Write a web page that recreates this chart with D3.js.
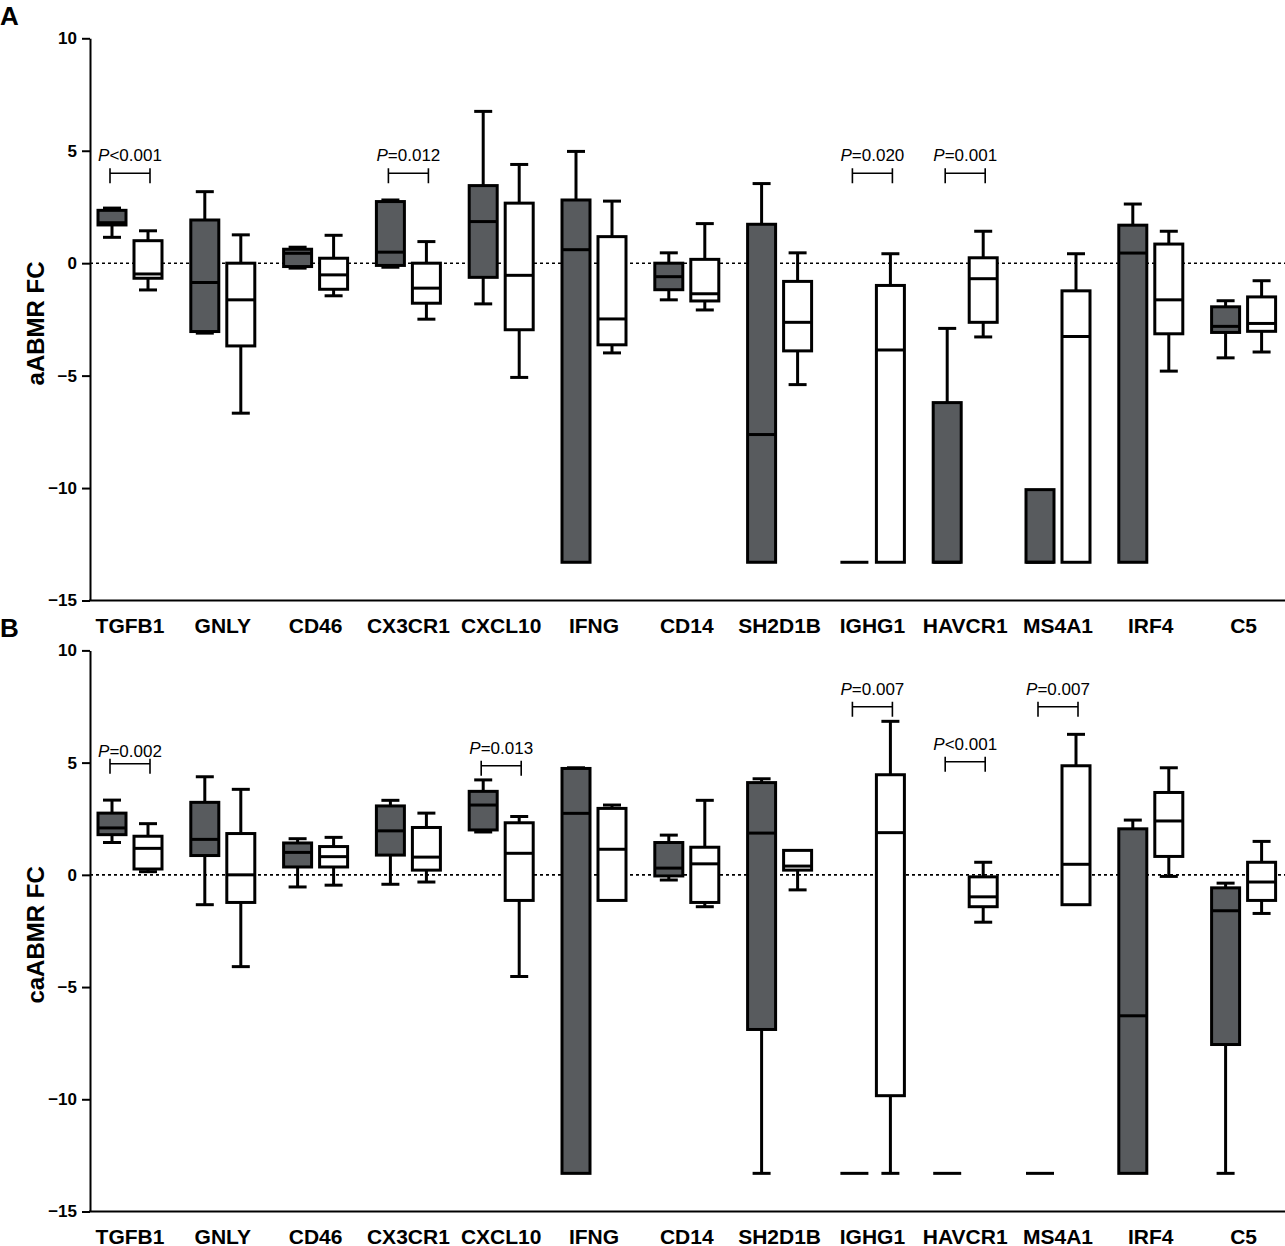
<!DOCTYPE html>
<html>
<head>
<meta charset="utf-8">
<script src="https://cdn.jsdelivr.net/npm/d3@7"></script>
<style>
  body { margin: 0; background: #fff; }
  svg { display: block; font-family: Arial, "Liberation Sans", sans-serif; }
</style>
</head>
<body>
<svg id="chart" width="1285" height="1246"></svg>
<script>
// genes on the x axis
var genes = ["TGFB1", "GNLY", "CD46", "CX3CR1", "CXCL10", "IFNG", "CD14",
             "SH2D1B", "IGHG1", "HAVCR1", "MS4A1", "IRF4", "C5"];
var yTicks = [10, 5, 0, -5, -10, -15];

// box values: [min, q1, median, q3, max]
var aDark = [
  [1.15, 1.7, 1.8, 2.35, 2.45],
  [-3.11, -3.04, -0.86, 1.92, 3.18],
  [-0.22, -0.15, 0.44, 0.62, 0.71],
  [-0.18, -0.1, 0.49, 2.74, 2.81],
  [-1.81, -0.63, 1.85, 3.45, 6.75],
  [-13.3, -13.3, 0.6, 2.81, 4.97],
  [-1.63, -1.18, -0.6, 0.0, 0.46],
  [-13.3, -13.3, -7.62, 1.73, 3.54],
  [-13.3, -13.3, -13.3, -13.3, -13.3],
  [-13.3, -13.3, -13.3, -6.2, -2.9],
  [-13.3, -13.3, -13.3, -10.07, -10.07],
  [-13.3, -13.3, 0.45, 1.69, 2.63],
  [-4.21, -3.08, -2.81, -1.94, -1.67]
];
var aLight = [
  [-1.19, -0.67, -0.48, 1.0, 1.44],
  [-6.67, -3.68, -1.63, 0.0, 1.26],
  [-1.45, -1.16, -0.52, 0.22, 1.24],
  [-2.49, -1.78, -1.11, 0.0, 0.96],
  [-5.08, -2.96, -0.54, 2.67, 4.39],
  [-3.99, -3.63, -2.48, 1.18, 2.76],
  [-2.08, -1.68, -1.36, 0.17, 1.76],
  [-5.4, -3.9, -2.63, -0.81, 0.46],
  [-13.3, -13.3, -3.86, -0.99, 0.42],
  [-3.28, -2.63, -0.69, 0.24, 1.42],
  [-13.3, -13.3, -3.26, -1.23, 0.42],
  [-4.8, -3.14, -1.63, 0.85, 1.42],
  [-3.95, -3.03, -2.68, -1.5, -0.78]
];
var bDark = [
  [1.44, 1.79, 2.09, 2.75, 3.33],
  [-1.33, 0.86, 1.58, 3.23, 4.37],
  [-0.54, 0.35, 1.0, 1.42, 1.61],
  [-0.42, 0.88, 1.96, 3.07, 3.32],
  [1.91, 2.0, 3.11, 3.72, 4.23],
  [-13.3, -13.3, 2.74, 4.74, 4.77],
  [-0.23, -0.05, 0.3, 1.44, 1.77],
  [-13.3, -6.89, 1.86, 4.11, 4.28],
  [-13.3, -13.3, -13.3, -13.3, -13.3],
  [-13.3, -13.3, -13.3, -13.3, -13.3],
  [-13.3, -13.3, -13.3, -13.3, -13.3],
  [-13.3, -13.3, -6.28, 2.05, 2.44],
  [-13.3, -7.56, -1.6, -0.58, -0.37]
];
var bLight = [
  [0.14, 0.26, 1.18, 1.72, 2.28],
  [-4.09, -1.23, 0.0, 1.84, 3.81],
  [-0.46, 0.35, 0.81, 1.26, 1.67],
  [-0.32, 0.21, 0.79, 2.11, 2.75],
  [-4.53, -1.14, 0.96, 2.32, 2.6],
  [-1.14, -1.14, 1.14, 2.96, 3.11],
  [-1.42, -1.23, 0.49, 1.23, 3.32],
  [-0.67, 0.21, 0.39, 1.09, 1.09],
  [-13.3, -9.84, 1.88, 4.46, 6.84],
  [-2.11, -1.42, -0.98, -0.09, 0.56],
  [-1.33, -1.33, 0.47, 4.86, 6.26],
  [-0.07, 0.82, 2.4, 3.67, 4.77],
  [-1.72, -1.14, -0.32, 0.56, 1.49]
];

// significance brackets: gene, p text, bracket level, text level (data units)
var aPvals = [
  { gene: "TGFB1", p: "<0.001", level: 4.0, textLevel: 4.55 },
  { gene: "CX3CR1", p: "=0.012", level: 4.0, textLevel: 4.55 },
  { gene: "IGHG1", p: "=0.020", level: 4.0, textLevel: 4.55 },
  { gene: "HAVCR1", p: "=0.001", level: 4.0, textLevel: 4.55 }
];
var bPvals = [
  { gene: "TGFB1", p: "=0.002", level: 4.95, textLevel: 5.25 },
  { gene: "CXCL10", p: "=0.013", level: 4.86, textLevel: 5.4 },
  { gene: "IGHG1", p: "=0.007", level: 7.49, textLevel: 8.0 },
  { gene: "HAVCR1", p: "<0.001", level: 5.04, textLevel: 5.57 },
  { gene: "MS4A1", p: "=0.007", level: 7.49, textLevel: 8.0 }
];

var svg = d3.select("#chart");
var DARK = "#585b5e";

var x = d3.scalePoint().domain(genes).range([130, 1243.6]);

function drawPanel(top, bottom, letter, title, dark, light, pvals) {
  var y = d3.scaleLinear().domain([-15, 10]).range([bottom, top]);
  var g = svg.append("g");

  // panel letter
  g.append("text")
    .attr("x", 0).attr("y", top - 13)
    .attr("font-size", 26).attr("font-weight", "bold")
    .text(letter);

  // zero reference line
  g.append("line")
    .attr("x1", 90).attr("x2", 1285)
    .attr("y1", y(0)).attr("y2", y(0))
    .attr("stroke", "#000").attr("stroke-width", 1.6)
    .attr("stroke-dasharray", "3,3");

  // y axis
  var yAxis = g.append("g")
    .attr("transform", "translate(90,0)")
    .call(d3.axisLeft(y).tickValues(yTicks).tickSize(8).tickSizeOuter(0).tickPadding(5));
  yAxis.select(".domain").attr("stroke-width", 2);
  yAxis.selectAll(".tick line").attr("stroke-width", 2);
  yAxis.selectAll(".tick text")
    .attr("font-size", 17).attr("font-weight", "bold")
    .attr("font-family", "Arial, 'Liberation Sans', sans-serif");

  // x axis baseline
  g.append("line")
    .attr("x1", 89).attr("x2", 1285)
    .attr("y1", y(-15)).attr("y2", y(-15))
    .attr("stroke", "#000").attr("stroke-width", 2);

  // gene labels
  g.selectAll(".glabel").data(genes).enter().append("text")
    .attr("x", function (d) { return x(d); })
    .attr("y", y(-15) + 32)
    .attr("text-anchor", "middle")
    .attr("font-size", 21).attr("font-weight", "bold")
    .text(function (d) { return d; });

  // y title
  g.append("text")
    .attr("transform", "translate(44," + ((top + bottom) / 2 + 4) + ") rotate(-90)")
    .attr("text-anchor", "middle")
    .attr("font-size", 24).attr("font-weight", "bold")
    .text(title);

  // boxes
  var series = [
    { vals: dark, dx: -18, fill: DARK },
    { vals: light, dx: 18, fill: "#fff" }
  ];
  series.forEach(function (s) {
    var bx = g.selectAll(null).data(s.vals).enter().append("g")
      .attr("transform", function (d, i) { return "translate(" + (x(genes[i]) + s.dx) + ",0)"; });

    // whiskers
    bx.filter(function (d) { return d[4] > d[3]; }).append("line")
      .attr("y1", function (d) { return y(d[3]); })
      .attr("y2", function (d) { return y(d[4]); })
      .attr("stroke", "#000").attr("stroke-width", 3);
    bx.filter(function (d) { return d[4] > d[3]; }).append("line")
      .attr("x1", -9).attr("x2", 9)
      .attr("y1", function (d) { return y(d[4]); })
      .attr("y2", function (d) { return y(d[4]); })
      .attr("stroke", "#000").attr("stroke-width", 3);
    bx.filter(function (d) { return d[0] < d[1]; }).append("line")
      .attr("y1", function (d) { return y(d[1]); })
      .attr("y2", function (d) { return y(d[0]); })
      .attr("stroke", "#000").attr("stroke-width", 3);
    bx.filter(function (d) { return d[0] < d[1]; }).append("line")
      .attr("x1", -9).attr("x2", 9)
      .attr("y1", function (d) { return y(d[0]); })
      .attr("y2", function (d) { return y(d[0]); })
      .attr("stroke", "#000").attr("stroke-width", 3);

    bx.append("rect")
      .attr("x", -14).attr("width", 28)
      .attr("y", function (d) { return y(d[3]); })
      .attr("height", function (d) { return y(d[1]) - y(d[3]); })
      .attr("fill", s.fill)
      .attr("stroke", "#000").attr("stroke-width", 3);

    bx.append("line")
      .attr("x1", -14).attr("x2", 14)
      .attr("y1", function (d) { return y(d[2]); })
      .attr("y2", function (d) { return y(d[2]); })
      .attr("stroke", "#000").attr("stroke-width", 3);
  });

  // p-value brackets
  var pv = g.selectAll(".pv").data(pvals).enter().append("g")
    .attr("transform", function (d) { return "translate(" + x(d.gene) + ",0)"; });
  pv.append("path")
    .attr("d", function (d) {
      var yy = y(d.level);
      return "M-20," + (yy - 5) + "V" + (yy + 10) +
        "M-20," + yy + "H20" +
        "M20," + (yy - 5) + "V" + (yy + 10);
    })
    .attr("fill", "none").attr("stroke", "#000").attr("stroke-width", 1.6);
  var t = pv.append("text")
    .attr("y", function (d) { return y(d.textLevel); })
    .attr("text-anchor", "middle")
    .attr("font-size", 17);
  t.append("tspan").attr("font-style", "italic").text("P");
  t.append("tspan").text(function (d) { return d.p; });
}

drawPanel(38.3, 600.5, "A", "aABMR  FC", aDark, aLight, aPvals);
drawPanel(650.4, 1211.5, "B", "caABMR  FC", bDark, bLight, bPvals);
</script>
</body>
</html>
